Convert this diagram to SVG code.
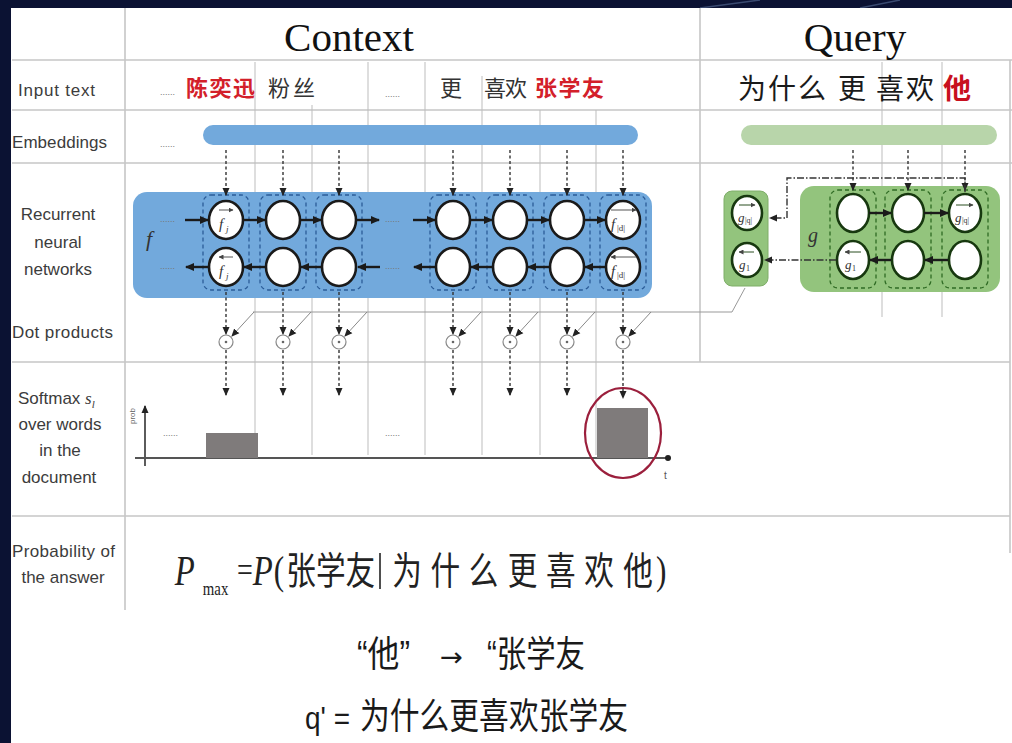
<svg xmlns="http://www.w3.org/2000/svg" width="1012" height="743" viewBox="0 0 1012 743">
<defs>
<style>
.lbl{font-family:"Liberation Sans Narrow","Liberation Sans",sans-serif;font-size:17px;fill:#3c3c3c}
.grid{stroke:#c6c6c6;stroke-width:1.6;fill:none}
.thin{stroke:#bdbdbd;stroke-width:1;fill:none}
.cjk{font-family:"Noto Sans CJK SC","Noto Sans CJK JP",sans-serif}
.red{fill:#d3202a;font-weight:bold}
.dots{font-family:"Liberation Sans",sans-serif;font-size:9px;fill:#777}
.dashbox{fill:none;stroke:#2b5c98;stroke-width:1.3;stroke-dasharray:4,3}
.gdashbox{fill:none;stroke:#2f6b24;stroke-width:1.3;stroke-dasharray:4,3}
.node{fill:#fff;stroke:#1a1a1a;stroke-width:2.6}
.gnode{fill:#fff;stroke:#17380f;stroke-width:2.6}
.rarr{stroke:#1a1a1a;stroke-width:2.4;fill:none;marker-end:url(#ah)}
.darr{stroke:#333;stroke-width:1.4;stroke-dasharray:3,2.5;fill:none;marker-end:url(#ahs)}
.dash1{stroke:#333;stroke-width:1.4;stroke-dasharray:7,2,1.5,2;fill:none;marker-end:url(#ahs)}
.slant{stroke:#888;stroke-width:1;fill:none;marker-end:url(#ahs)}
.dotc{fill:#fff;stroke:#888;stroke-width:1.2}
.it{font-family:"Liberation Serif",serif;font-style:italic;fill:#333}
.sub{font-family:"Liberation Serif",serif;fill:#333}
.bar{fill:#7f7b7b}
.ser{font-family:"Liberation Serif",serif}
.bt{font-family:"Liberation Sans","Noto Sans CJK SC",sans-serif;fill:#1a1a1a}
</style>
<marker id="ah" markerUnits="userSpaceOnUse" markerWidth="9" markerHeight="8" refX="8" refY="4" orient="auto"><path d="M0,0 L9,4 L0,8 z" fill="#1a1a1a"/></marker>
<marker id="ahs" markerUnits="userSpaceOnUse" markerWidth="8" markerHeight="8" refX="7" refY="4" orient="auto"><path d="M0,0.5 L8,4 L0,7.5 z" fill="#222"/></marker>
<marker id="ahtiny" markerUnits="userSpaceOnUse" markerWidth="5" markerHeight="5" refX="4.5" refY="2.5" orient="auto"><path d="M0,0 L5,2.5 L0,5 z" fill="#444"/></marker>
<marker id="dotend" markerUnits="userSpaceOnUse" markerWidth="8" markerHeight="8" refX="4" refY="4" orient="auto"><circle cx="4" cy="4" r="3" fill="#222"/></marker>
</defs>

<!-- background frame -->
<rect x="0" y="0" width="1012" height="743" fill="#0b1233"/>
<path d="M700,8 L760,0 M860,8 L900,0" stroke="#3a4a70" stroke-width="1.5"/>
<rect x="11" y="8" width="1001" height="735" fill="#ffffff"/>

<!-- grid -->
<g id="grid">
<path class="grid" d="M12,60 H1012 M12,110 H1012 M12,163 H1012 M12,362 H1010 M12,516 H1010"/>
<path class="grid" d="M125,8 V610 M700,8 V362 M1010,60 V553"/>
<path class="thin" d="M255,62 V455 M312,105 V455 M368,62 V455 M425,62 V455 M482,76 V455 M540,110 V455 M596,110 V455 M882,62 V317 M942,62 V317"/>
</g>

<!-- headers -->
<g id="headers">
<text x="349" y="51" text-anchor="middle" font-family="Liberation Serif,serif" font-size="41" fill="#111">Context</text>
<text x="855" y="51" text-anchor="middle" font-family="Liberation Serif,serif" font-size="41" fill="#111">Query</text>
</g>

<!-- left labels -->
<g id="labels">
<text class="lbl" x="18" y="96" textLength="77">Input text</text>
<text class="lbl" x="12" y="148" textLength="95">Embeddings</text>
<text class="lbl" x="58" y="220" text-anchor="middle">Recurrent</text>
<text class="lbl" x="58" y="248" text-anchor="middle">neural</text>
<text class="lbl" x="58" y="275" text-anchor="middle">networks</text>
<text class="lbl" x="12" y="338" textLength="101">Dot products</text>
<text class="lbl" x="18" y="404">Softmax <tspan font-family="Liberation Serif,serif" font-style="italic">s</tspan><tspan font-family="Liberation Serif,serif" font-style="italic" font-size="11" dy="4">l</tspan></text>
<text class="lbl" x="60" y="430" text-anchor="middle">over words</text>
<text class="lbl" x="60" y="456" text-anchor="middle">in the</text>
<text class="lbl" x="59" y="483" text-anchor="middle">document</text>
<text class="lbl" x="12" y="557" textLength="103">Probability of</text>
<text class="lbl" x="63" y="583" text-anchor="middle">the answer</text>
</g>

<!-- input text row -->
<g id="input-context">
<text class="dots" x="160" y="95">......</text>
<text class="cjk red" x="186" y="96" font-size="22" textLength="69">陈奕迅</text>
<text class="cjk" x="268" y="96" font-size="22" fill="#333" textLength="47">粉丝</text>
<text class="dots" x="385" y="97">......</text>
<text class="cjk" x="440" y="96" font-size="22" fill="#333">更</text>
<text class="cjk" x="484" y="96" font-size="22" fill="#333" textLength="43">喜欢</text>
<text class="cjk red" x="535" y="96" font-size="22" textLength="69">张学友</text>
</g>
<g id="input-query">
<text class="cjk" x="738" y="99" font-size="28" fill="#1a1a1a" textLength="88">为什么</text>
<text class="cjk" x="838" y="99" font-size="28" fill="#1a1a1a">更</text>
<text class="cjk" x="876" y="99" font-size="28" fill="#1a1a1a" textLength="58">喜欢</text>
<text class="cjk" x="943" y="99" font-size="28" fill="#c8101e" font-weight="bold">他</text>
</g>

<!-- embeddings -->
<g id="embeddings">
<text class="dots" x="160" y="147">......</text>
<rect id="emb-context" x="203" y="125" width="435" height="20" rx="10" fill="#72a9dc"/>
<rect id="emb-query" x="741" y="125" width="256" height="20" rx="10" fill="#b8d5aa"/>
</g>

<!-- context RNN -->
<g id="rnn-context">
<rect x="133" y="192" width="519" height="106" rx="14" fill="#72a9dc"/>
<text class="it" x="146" y="246" font-size="22">f</text>
<rect class="dashbox" x="203" y="195" width="46" height="95" rx="8"/>
<rect class="dashbox" x="260" y="195" width="46" height="95" rx="8"/>
<rect class="dashbox" x="316" y="195" width="46" height="95" rx="8"/>
<rect class="dashbox" x="430" y="195" width="46" height="95" rx="8"/>
<rect class="dashbox" x="487" y="195" width="46" height="95" rx="8"/>
<rect class="dashbox" x="544" y="195" width="46" height="95" rx="8"/>
<rect class="dashbox" x="600" y="195" width="46" height="95" rx="8"/>
<g id="f-top">
<ellipse class="node" cx="226" cy="220" rx="17" ry="19"/>
<ellipse class="node" cx="283" cy="220" rx="17" ry="19"/>
<ellipse class="node" cx="339" cy="220" rx="17" ry="19"/>
<ellipse class="node" cx="453" cy="220" rx="17" ry="19"/>
<ellipse class="node" cx="510" cy="220" rx="17" ry="19"/>
<ellipse class="node" cx="567" cy="220" rx="17" ry="19"/>
<ellipse class="node" cx="623" cy="220" rx="17" ry="19"/>
</g>
<g id="f-bottom">
<ellipse class="node" cx="226" cy="267" rx="17" ry="19"/>
<ellipse class="node" cx="283" cy="267" rx="17" ry="19"/>
<ellipse class="node" cx="339" cy="267" rx="17" ry="19"/>
<ellipse class="node" cx="453" cy="267" rx="17" ry="19"/>
<ellipse class="node" cx="510" cy="267" rx="17" ry="19"/>
<ellipse class="node" cx="567" cy="267" rx="17" ry="19"/>
<ellipse class="node" cx="623" cy="267" rx="17" ry="19"/>
</g>
<path d="M219,210 H233" stroke="#555" stroke-width="1" marker-end="url(#ahtiny)"/>
<text class="it" x="219" y="229" font-size="15">f</text><text class="it" x="226" y="232" font-size="9">j</text>
<path d="M233,257 H219" stroke="#555" stroke-width="1" marker-end="url(#ahtiny)"/>
<text class="it" x="219" y="276" font-size="15">f</text><text class="it" x="226" y="279" font-size="9">j</text>
<path d="M611,210 H636" stroke="#555" stroke-width="1" marker-end="url(#ahtiny)"/>
<text class="it" x="611" y="229" font-size="15">f</text><text class="sub" x="617" y="231" font-size="9" fill="#5a3f78">|d|</text>
<path d="M636,257 H611" stroke="#555" stroke-width="1" marker-end="url(#ahtiny)"/>
<text class="it" x="611" y="276" font-size="15">f</text><text class="sub" x="617" y="278" font-size="9" fill="#5a3f78">|d|</text>
<text class="dots" x="160" y="222" fill="#333">......</text>
<text class="dots" x="385" y="222" fill="#333">......</text>
<text class="dots" x="160" y="269" fill="#333">......</text>
<text class="dots" x="385" y="269" fill="#333">......</text>
</g>

<!-- query RNN -->
<g id="rnn-query-state">
<rect x="724" y="191" width="44" height="95" rx="8" fill="#93c47d" stroke="#7fae69" stroke-width="1"/>
<ellipse class="gnode" cx="747" cy="213" rx="15" ry="17"/>
<ellipse class="gnode" cx="747" cy="260" rx="15" ry="17"/>
<path d="M739,205 H755" stroke="#2a4f20" stroke-width="1" marker-end="url(#ahtiny)"/>
<text class="it" x="738" y="222" font-size="13" fill="#1e3d14">g</text><text class="sub" x="745" y="223" font-size="8" fill="#1e3d14">|q|</text>
<path d="M754,252 H739" stroke="#2a4f20" stroke-width="1" marker-end="url(#ahtiny)"/>
<text class="it" x="739" y="269" font-size="13" fill="#1e3d14">g</text><text class="sub" x="746" y="271" font-size="8" fill="#1e3d14">1</text>
</g>
<g id="rnn-query">
<rect x="800" y="186" width="200" height="106" rx="14" fill="#93c47d"/>
<text class="it" x="808" y="242" font-size="20" fill="#2d5a22">g</text>
<rect class="gdashbox" x="830" y="190" width="46" height="98" rx="8"/>
<rect class="gdashbox" x="885" y="190" width="46" height="98" rx="8"/>
<rect class="gdashbox" x="942" y="190" width="46" height="98" rx="8"/>
<ellipse class="gnode" cx="853" cy="213" rx="16" ry="19"/>
<ellipse class="gnode" cx="908" cy="213" rx="16" ry="19"/>
<ellipse class="gnode" cx="965" cy="213" rx="16" ry="19"/>
<ellipse class="gnode" cx="853" cy="260" rx="16" ry="19"/>
<ellipse class="gnode" cx="908" cy="260" rx="16" ry="19"/>
<ellipse class="gnode" cx="965" cy="260" rx="16" ry="19"/>
<path d="M956,205 H973" stroke="#2a4f20" stroke-width="1" marker-end="url(#ahtiny)"/>
<text class="it" x="955" y="222" font-size="13" fill="#1e3d14">g</text><text class="sub" x="962" y="223" font-size="8" fill="#1e3d14">|q|</text>
<path d="M861,252 H845" stroke="#2a4f20" stroke-width="1" marker-end="url(#ahtiny)"/>
<text class="it" x="845" y="269" font-size="13" fill="#1e3d14">g</text><text class="sub" x="852" y="271" font-size="8" fill="#1e3d14">1</text>
</g>

<!-- dot products -->
<g id="dot-products">
<circle class="dotc" cx="226" cy="342" r="7"/><circle cx="226" cy="342" r="1.3" fill="#666"/>
<circle class="dotc" cx="283" cy="342" r="7"/><circle cx="283" cy="342" r="1.3" fill="#666"/>
<circle class="dotc" cx="339" cy="342" r="7"/><circle cx="339" cy="342" r="1.3" fill="#666"/>
<circle class="dotc" cx="453" cy="342" r="7"/><circle cx="453" cy="342" r="1.3" fill="#666"/>
<circle class="dotc" cx="510" cy="342" r="7"/><circle cx="510" cy="342" r="1.3" fill="#666"/>
<circle class="dotc" cx="567" cy="342" r="7"/><circle cx="567" cy="342" r="1.3" fill="#666"/>
<circle class="dotc" cx="623" cy="342" r="7"/><circle cx="623" cy="342" r="1.3" fill="#666"/>
</g>

<!-- softmax chart -->
<g id="softmax">
<path d="M145,466 V406" stroke="#333" stroke-width="1.6" fill="none" marker-end="url(#ahs)"/>
<text x="135" y="424" transform="rotate(-90 135 424)" font-family="Liberation Sans,sans-serif" font-size="8" fill="#666">prob</text>
<path d="M135,458 H668" stroke="#555" stroke-width="2" fill="none" marker-end="url(#dotend)"/>
<text x="664" y="479" font-family="Liberation Sans,sans-serif" font-size="10" fill="#555">t</text>
<text class="dots" x="163" y="436">......</text>
<text class="dots" x="385" y="436">......</text>
<rect class="bar" x="206" y="433" width="52" height="25"/>
<rect class="bar" x="597" y="408" width="51" height="50"/>
<ellipse cx="623" cy="433" rx="38" ry="45" fill="none" stroke="#9b1f3c" stroke-width="2.2"/>
</g>

<!-- connectors -->
<g id="connectors">
<line class="darr" x1="226" y1="150" x2="226" y2="195"/>
<line class="darr" x1="283" y1="150" x2="283" y2="195"/>
<line class="darr" x1="339" y1="150" x2="339" y2="195"/>
<line class="darr" x1="453" y1="150" x2="453" y2="195"/>
<line class="darr" x1="510" y1="150" x2="510" y2="195"/>
<line class="darr" x1="567" y1="150" x2="567" y2="195"/>
<line class="darr" x1="623" y1="150" x2="623" y2="195"/>
<line class="darr" x1="853" y1="150" x2="853" y2="190"/>
<line class="darr" x1="908" y1="150" x2="908" y2="190"/>
<line class="darr" x1="965" y1="150" x2="965" y2="190"/>

<line class="rarr" x1="185" y1="220" x2="208" y2="220"/>
<line class="rarr" x1="243" y1="220" x2="265" y2="220"/>
<line class="rarr" x1="300" y1="220" x2="321" y2="220"/>
<line class="rarr" x1="356" y1="220" x2="379" y2="220"/>
<line class="rarr" x1="413" y1="220" x2="435" y2="220"/>
<line class="rarr" x1="470" y1="220" x2="492" y2="220"/>
<line class="rarr" x1="527" y1="220" x2="549" y2="220"/>
<line class="rarr" x1="584" y1="220" x2="605" y2="220"/>

<line class="rarr" x1="209" y1="267" x2="186" y2="267"/>
<line class="rarr" x1="266" y1="267" x2="244" y2="267"/>
<line class="rarr" x1="322" y1="267" x2="301" y2="267"/>
<line class="rarr" x1="380" y1="267" x2="358" y2="267"/>
<line class="rarr" x1="436" y1="267" x2="414" y2="267"/>
<line class="rarr" x1="493" y1="267" x2="471" y2="267"/>
<line class="rarr" x1="550" y1="267" x2="528" y2="267"/>
<line class="rarr" x1="606" y1="267" x2="585" y2="267"/>

<line class="rarr" x1="869" y1="213" x2="891" y2="213"/>
<line class="rarr" x1="924" y1="213" x2="948" y2="213"/>
<line class="rarr" x1="891" y1="260" x2="870" y2="260"/>
<line class="rarr" x1="948" y1="260" x2="925" y2="260"/>

<path class="dash1" d="M965,192 V178 H787 V218 H770"/>
<path class="dash1" d="M836,260 H765"/>
<path d="M745,288 L732,312 H253" stroke="#999" stroke-width="1" fill="none"/>
<line class="slant" x1="254" y1="312" x2="232" y2="336"/>
<line class="slant" x1="311" y1="312" x2="289" y2="336"/>
<line class="slant" x1="367" y1="312" x2="345" y2="336"/>
<line class="slant" x1="481" y1="312" x2="459" y2="336"/>
<line class="slant" x1="538" y1="312" x2="516" y2="336"/>
<line class="slant" x1="595" y1="312" x2="573" y2="336"/>
<line class="slant" x1="651" y1="312" x2="629" y2="336"/>

<line class="darr" x1="226" y1="292" x2="226" y2="334"/>
<line class="darr" x1="283" y1="292" x2="283" y2="334"/>
<line class="darr" x1="339" y1="292" x2="339" y2="334"/>
<line class="darr" x1="453" y1="292" x2="453" y2="334"/>
<line class="darr" x1="510" y1="292" x2="510" y2="334"/>
<line class="darr" x1="567" y1="292" x2="567" y2="334"/>
<line class="darr" x1="623" y1="292" x2="623" y2="334"/>

<line class="darr" x1="226" y1="350" x2="226" y2="395"/>
<line class="darr" x1="283" y1="350" x2="283" y2="395"/>
<line class="darr" x1="339" y1="350" x2="339" y2="395"/>
<line class="darr" x1="453" y1="350" x2="453" y2="395"/>
<line class="darr" x1="510" y1="350" x2="510" y2="395"/>
<line class="darr" x1="567" y1="350" x2="567" y2="395"/>
<line class="darr" x1="623" y1="350" x2="623" y2="398"/>
</g>

<!-- probability formula (one text, horizontally condensed like the reference) -->
<g id="formula">
<text transform="translate(0,584) scale(0.78,1)" fill="#222"><tspan class="ser" x="224" y="1" font-style="italic" font-size="42">P</tspan><tspan class="ser" x="260" y="11" font-size="19">max</tspan><tspan class="ser" x="304" y="-2" font-size="36">=</tspan><tspan class="ser" x="324" y="1" font-style="italic" font-size="42">P</tspan><tspan class="ser" x="351" y="0" font-size="40">(</tspan><tspan class="cjk" x="367 405 443" y="0" font-size="38">张学友</tspan><tspan class="cjk" x="503 552 601 651 700 749 799" y="0" font-size="38">为什么更喜欢他</tspan><tspan class="ser" x="841" y="0" font-size="40">)</tspan></text>
<line x1="380" y1="553" x2="380" y2="589" stroke="#222" stroke-width="1.6"/>
</g>

<!-- bottom text -->
<g id="rewrite">
<text class="bt" x="357" y="667" font-size="36" textLength="53" lengthAdjust="spacingAndGlyphs">“他”</text>
<text x="440" y="666" font-family="DejaVu Sans,sans-serif" font-size="26" fill="#1a1a1a" textLength="23" lengthAdjust="spacingAndGlyphs">→</text>
<text class="bt" x="487" y="667" font-size="36" textLength="98" lengthAdjust="spacingAndGlyphs">“张学友</text>
<text class="bt" x="305" y="729" font-size="32" textLength="45" lengthAdjust="spacingAndGlyphs">q' =</text>
<text class="cjk" x="360" y="729" font-size="36" fill="#1a1a1a" textLength="268" lengthAdjust="spacingAndGlyphs">为什么更喜欢张学友</text>
</g>
</svg>
